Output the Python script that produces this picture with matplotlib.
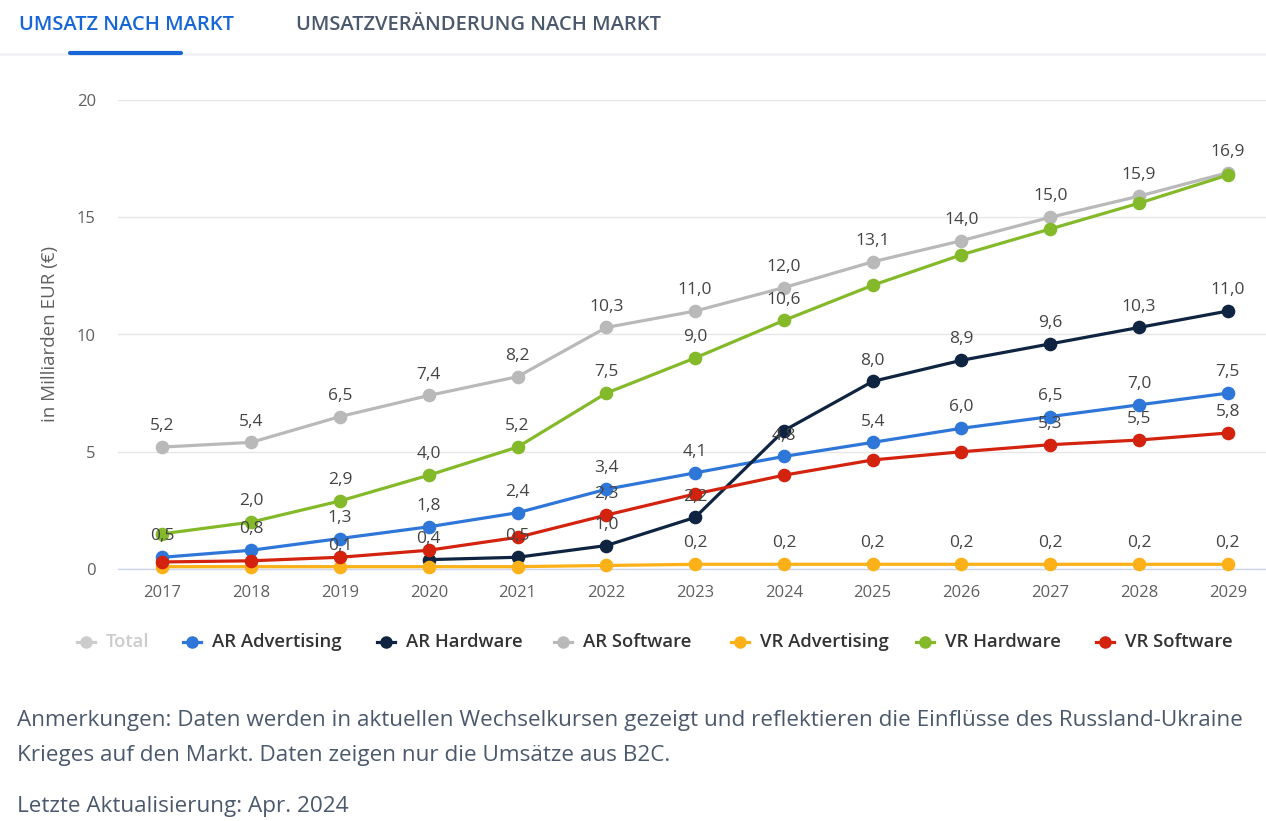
import numpy as np
import matplotlib
matplotlib.use("Agg")
import matplotlib.pyplot as plt
from matplotlib.lines import Line2D

plt.rcParams['font.family'] = ['Open Sans', 'DejaVu Sans']

years = [str(y) for y in range(2017, 2030)]
ar_advertising = [0.5, 0.8, 1.3, 1.8, 2.4, 3.4, 4.1, 4.8, 5.4, 6.0, 6.5, 7.0, 7.5]
ar_hardware = [np.nan, np.nan, np.nan, 0.4, 0.5, 1.0, 2.2, 5.9, 8.0, 8.9, 9.6, 10.3, 11.0]
ar_software = [5.2, 5.4, 6.5, 7.4, 8.2, 10.3, 11.0, 12.0, 13.1, 14.0, 15.0, 15.9, 16.9]
vr_advertising = [0.1, 0.1, 0.1, 0.1, 0.1, 0.15, 0.2, 0.2, 0.2, 0.2, 0.2, 0.2, 0.2]
vr_hardware = [1.5, 2.0, 2.9, 4.0, 5.2, 7.5, 9.0, 10.6, 12.1, 13.4, 14.5, 15.6, 16.8]
vr_software = [0.3, 0.35, 0.5, 0.8, 1.35, 2.3, 3.2, 4.0, 4.65, 5.0, 5.3, 5.5, 5.8]

series_names = ["AR Advertising", "AR Hardware", "AR Software",
                "VR Advertising", "VR Hardware", "VR Software"]
series_values = [ar_advertising, ar_hardware, ar_software,
                 vr_advertising, vr_hardware, vr_software]
colors = ["#2f76d9", "#0f2441", "#b9b9b9", "#fbb117", "#84b92a", "#d3230f"]

# which data labels remain visible (overlapping ones are hidden in the original)
T, F = True, False
label_shown = [
    [T] * 13,
    [F, F, F, T, T, T, T, F, T, T, T, T, T],
    [T] * 13,
    [F, F, T, F, F, F, T, T, T, T, T, T, T],
    [F, T, T, T, T, T, T, T, F, F, F, F, F],
    [F, F, F, F, F, T, F, F, F, F, T, T, T],
]

W, H = 1266, 821
fig = plt.figure(figsize=(W / 100, H / 100), dpi=100)

def fx(px):
    return px / W

def fy(py):
    return 1 - py / H

ax = fig.add_axes([fx(118), fy(569), fx(1266) - fx(118), fy(100) - fy(569)])
x = np.arange(len(years))
ax.set_xlim(-0.5, 12.43)
ax.set_ylim(0, 20)

for name, vals, c in zip(series_names, series_values, colors):
    ax.plot(x, vals, color=c, lw=2.3, marker='o', ms=8.8, clip_on=False,
            solid_capstyle='round', zorder=3)

for vals, shown in zip(series_values, label_shown):
    for xi, v, s in zip(x, vals, shown):
        if s and not np.isnan(v):
            ax.annotate(f"{v:.1f}".replace('.', ','), (xi, v), xytext=(0, 15),
                        textcoords='offset points', ha='center', va='center',
                        fontsize=12.5, color='#444444', zorder=5)

ax.set_yticks([0, 5, 10, 15, 20])
ax.set_yticklabels(['0', '5', '10', '15', '20'])
ax.set_xticks(x)
ax.set_xticklabels(years)
ax.grid(axis='y', color='#e6e6e6', lw=1)
ax.set_axisbelow(True)
for sp in ['top', 'right', 'left']:
    ax.spines[sp].set_visible(False)
ax.spines['bottom'].set_color('#ccd6eb')
ax.spines['bottom'].set_linewidth(1)
ax.tick_params(axis='both', length=0, labelsize=12, colors='#606060')
ax.tick_params(axis='y', pad=16)
ax.tick_params(axis='x', pad=11.5)
fig.text(fx(50), fy(334), 'in Milliarden EUR (€)', rotation=90, ha='center', va='center',
         fontsize=13.5, color='#606060')

# Legend (drawn manually)
legend_items = ["Total"] + series_names
legend_colors = ["#cccccc"] + colors
legend_text_colors = ["#cccccc"] + ["#333333"] * 6
marker_px = [86, 192, 386, 563, 740, 925, 1105]
ly = fy(641.5)
for name, c, tc, mx in zip(legend_items, legend_colors, legend_text_colors, marker_px):
    fig.add_artist(Line2D([fx(mx - 9), fx(mx + 9)], [ly, ly], color=c, lw=2.3,
                          transform=fig.transFigure))
    fig.add_artist(Line2D([fx(mx)], [ly], color=c, marker='o', ms=8,
                          transform=fig.transFigure))
    fig.text(fx(mx + 20), ly, name, ha='left', va='center', fontsize=13.3,
             fontweight='semibold', color=tc)

# Tabs
fig.text(fx(19), fy(24.5), 'UMSATZ NACH MARKT', ha='left', va='center', fontsize=14.5,
         fontweight='semibold', color='#1666d6')
fig.text(fx(296), fy(24.5), 'UMSATZVERÄNDERUNG NACH MARKT', ha='left', va='center',
         fontsize=14.5, fontweight='semibold', color='#4b596d')
fig.add_artist(Line2D([0, 1], [fy(54), fy(54)], color='#f0f2f5', lw=2,
                      transform=fig.transFigure))
fig.add_artist(Line2D([fx(70), fx(181)], [fy(53), fy(53)], color='#1666d6', lw=3,
                      solid_capstyle='round', transform=fig.transFigure))

# Footer
fcol = '#4b596d'
fig.text(fx(17), fy(720), 'Anmerkungen: Daten werden in aktuellen Wechselkursen gezeigt und reflektieren die Einflüsse des Russland-Ukraine',
         ha='left', va='center', fontsize=16.2, color=fcol)
fig.text(fx(17), fy(755), 'Krieges auf den Markt. Daten zeigen nur die Umsätze aus B2C.',
         ha='left', va='center', fontsize=16.2, color=fcol)
fig.text(fx(17), fy(806), 'Letzte Aktualisierung: Apr. 2024',
         ha='left', va='center', fontsize=16.2, color=fcol)

fig.savefig('out.png', dpi=100)
